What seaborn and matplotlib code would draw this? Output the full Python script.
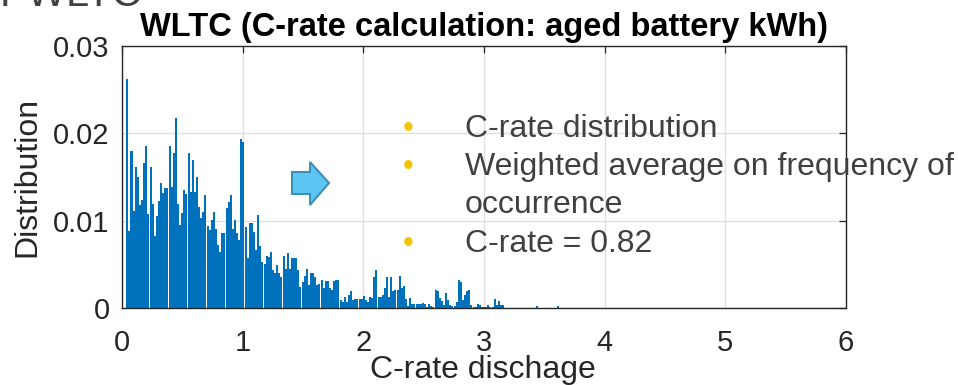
import numpy as np
import pandas as pd
import matplotlib
matplotlib.use("Agg")
import matplotlib.pyplot as plt
import seaborn as sns
from matplotlib.patches import Polygon

# ---------------- data ----------------
bin_start = 0.035
bin_width = 0.0175
distribution = [
    0.0262, 0.0088, 0.0180, 0.0111, 0.0162, 0.0150, 0.0118, 0.0124, 0.0166, 0.0185,
    0.0108, 0.0162, 0.0119, 0.0082, 0.0105, 0.0123, 0.0143, 0.0132, 0.0137, 0.0137,
    0.0186, 0.0139, 0.0178, 0.0217, 0.0119, 0.0095, 0.0109, 0.0135,
    0.0131, 0.0178, 0.0133, 0.0170, 0.0133, 0.0150, 0.0116, 0.0103, 0.0110, 0.0129,
    0.0094, 0.0089, 0.0101, 0.0110, 0.0091, 0.0072, 0.0064, 0.0086, 0.0086, 0.0115,
    0.0121, 0.0129, 0.0091, 0.0101, 0.0086, 0.0078, 0.0193, 0.0190,
    0.0093, 0.0057, 0.0097, 0.0097, 0.0087, 0.0066, 0.0106, 0.0071, 0.0053, 0.0050,
    0.0059, 0.0058, 0.0064, 0.0044, 0.0040, 0.0049, 0.0040, 0.0035, 0.0059, 0.0045,
    0.0063, 0.0045, 0.0057, 0.0057, 0.0057, 0.0043, 0.0024, 0.0030, 0.0037, 0.0045,
    0.0026, 0.0040, 0.0040, 0.0036,
    0.0026, 0.0028, 0.0032, 0.0023, 0.0031, 0.0031, 0.0023, 0.0021, 0.0031, 0.0032,
    0.0032, 0.0009, 0.0007, 0.0013, 0.0007, 0.0015, 0.0020, 0.0009, 0.0010, 0.0010,
    0.0010, 0.0010, 0.0014, 0.0009, 0.0007, 0.0013, 0.0011, 0.0036, 0.0044, 0.0013,
    0.0013, 0.0015, 0.0023, 0.0036, 0.0013, 0.0035, 0.0020, 0.0021, 0.0021, 0.0037,
    0.0023,
    0.0025, 0.0010, 0.0002, 0.0011, 0.0005, 0.0005, 0.0005, 0.0005, 0.0005, 0.0006,
    0.0005, 0.0001, 0.0005, 0.0002, 0.0001, 0.0021, 0.0020, 0.0011, 0.0008, 0.0003,
    0.0017, 0.0009, 0.0003, 0.0002, 0.0002, 0.0007, 0.0032, 0.0030, 0.0009, 0.0015,
    0.0020, 0.0021, 0.0003, 0.0001, 0.0001, 0.0005, 0.0004, 0.0001, 0.0001, 0.0001,
    0.0003, 0.0001, 0.0001, 0.0010, 0.0003, 0.0008, 0.0003,
    0.0003, 0, 0, 0, 0, 0, 0, 0, 0, 0, 0, 0, 0, 0, 0, 0,
    0.0002, 0, 0, 0, 0, 0, 0, 0, 0, 0,
    0.0002,
]
x_ticks = [0, 1, 2, 3, 4, 5, 6]
y_ticks = [0, 0.01, 0.02, 0.03]
y_tick_labels = ["0", "0.01", "0.02", "0.03"]
title = "WLTC (C-rate calculation: aged battery kWh)"
x_label = "C-rate dischage"
y_label = "Distribution"
bullet_lines = ["C-rate distribution",
                "Weighted average on frequency of",
                "occurrence",
                "C-rate = 0.82"]
bullet_flags = [True, True, False, True]
header_text = "PWLTC"

# ---------------- style ----------------
sns.set_theme(style="white")
plt.rcParams['font.family'] = ['Liberation Sans', 'DejaVu Sans']

W, H = 958, 385
def fx(px):
    return px / W
def fy(py):
    return 1 - py / H

n = len(distribution)
edges = bin_start + bin_width * np.arange(n + 1)
centers = (edges[:-1] + edges[1:]) / 2
df = pd.DataFrame({"c_rate": centers, "dist": np.asarray(distribution, dtype=float)})

fig = plt.figure(figsize=(W / 100, H / 100), dpi=100)
fig.patch.set_facecolor("white")
ax = fig.add_axes([fx(122), fy(308), (846 - 122) / W, (308 - 46) / H])

sns.histplot(data=df, x="c_rate", weights="dist", bins=n,
             binrange=(float(edges[0]), float(edges[-1])),
             color="#0072BD", edgecolor="none", linewidth=0,
             shrink=0.95, alpha=1, ax=ax)

ax.set_xlim(0, 6)
ax.set_ylim(0, 0.03)
ax.set_xticks(x_ticks)
ax.set_xticklabels([str(t) for t in x_ticks])
ax.set_yticks(y_ticks)
ax.set_yticklabels(y_tick_labels)
ax.set_axisbelow(True)
ax.grid(True, color="#dedede", linewidth=0.9)
for s in ax.spines.values():
    s.set_visible(True)
    s.set_color("#262626")
    s.set_linewidth(1.0)
ax.tick_params(axis="both", direction="in", length=5, width=0.9,
               top=True, right=True, colors="#262626", labelsize=21,
               labelcolor="#262626")
ax.tick_params(axis="x", pad=15)
ax.tick_params(axis="y", pad=9)

ax.set_xlabel(x_label, fontsize=23, color="#262626")
ax.xaxis.set_label_coords(0.4986, -0.18)
ax.set_ylabel(y_label, fontsize=23, color="#262626")
ax.yaxis.set_label_coords(-0.11, 0.5)
ax.set_title(title, fontsize=23.5, fontweight="bold", color="black", pad=7)

# block arrow
arrow_px = [(292, 172), (310, 172), (310, 162), (329, 183),
            (310, 205), (310, 194), (292, 194)]
arrow = Polygon([(fx(x), fy(y)) for x, y in arrow_px], closed=True,
                transform=fig.transFigure, facecolor="#5CC6F2",
                edgecolor="#3E8FB8", linewidth=1.5, zorder=5)
fig.add_artist(arrow)

# bullet text overlay
baselines = [137, 175, 213, 252]
for line, flag, b in zip(bullet_lines, bullet_flags, baselines):
    fig.text(fx(465), fy(b), line, fontsize=23, color="#404040",
             va="baseline", ha="left", zorder=6)
    if flag:
        fig.text(fx(408), fy(b), "\u2022", fontsize=22, color="#F5C400",
                 va="baseline", ha="center", zorder=6)

# cut-off header text at the very top
fig.text(fx(0), fy(6), header_text, fontsize=30, color="#404040",
         va="baseline", ha="left")

fig.savefig("out.png", dpi=100)
